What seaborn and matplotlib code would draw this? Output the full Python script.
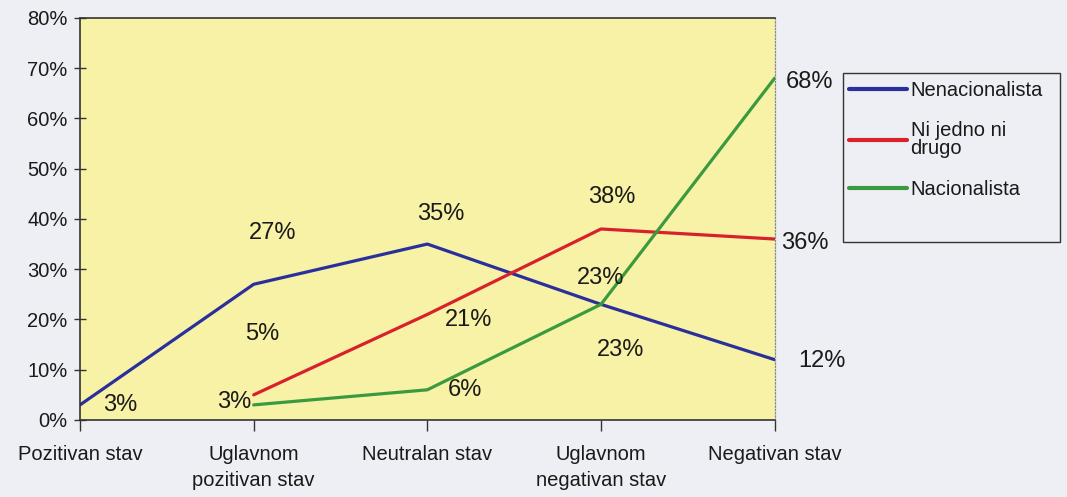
import numpy as np
import pandas as pd
import seaborn as sns
import matplotlib.pyplot as plt
from matplotlib.patches import Rectangle
from matplotlib.ticker import PercentFormatter

sns.set_style("white")
plt.rcParams['font.family'] = ['Liberation Sans', 'DejaVu Sans']

categories = ["Pozitivan stav", "Uglavnom\npozitivan stav", "Neutralan stav",
              "Uglavnom\nnegativan stav", "Negativan stav"]
nenacionalista = [3, 27, 35, 23, 12]
ni_jedno = [np.nan, 5, 21, 38, 36]
nacionalista = [np.nan, 3, 6, 23, 68]
series_names = ["Nenacionalista", "Ni jedno ni\ndrugo", "Nacionalista"]
colors = ["#2b2f9c", "#d8212b", "#3c9a3e"]

rows = []
for name, vals in zip(series_names, [nenacionalista, ni_jedno, nacionalista]):
    for i, v in enumerate(vals):
        rows.append({"serija": name, "x": i, "val": v})
df = pd.DataFrame(rows).dropna()

bg = "#eeeff4"
fig = plt.figure(figsize=(10.67, 4.97), dpi=100, facecolor=bg)
ax = fig.add_axes([0.075, 0.155, 0.651, 0.809])
ax.set_facecolor("#f7f2a6")

sns.lineplot(data=df, x="x", y="val", hue="serija", hue_order=series_names,
             palette=colors, linewidth=2.3, ax=ax, legend=True)

ax.set_xlim(0, 4)
ax.set_ylim(0, 80)
ax.set_xticks(range(5))
ax.set_xticklabels(categories, fontsize=14.5, color="#1a1a1a", linespacing=1.45)
ax.set_yticks(range(0, 81, 10))
ax.yaxis.set_major_formatter(PercentFormatter(decimals=0))
ax.tick_params(axis="y", labelsize=14.5, labelcolor="#1a1a1a", direction="inout",
               length=8, width=1, color="#333333", left=True, pad=5)
ax.tick_params(axis="x", direction="out", length=8, width=1, color="#333333",
               bottom=True, pad=10)
ax.set_xlabel("")
ax.set_ylabel("")
for s in ["left", "bottom", "top"]:
    ax.spines[s].set_color("#333333")
    ax.spines[s].set_linewidth(1.2)
ax.spines["right"].set_color("#888888")
ax.spines["right"].set_linewidth(0.9)
ax.spines["right"].set_linestyle(":")

# data labels (offsets in points)
label_offsets = {
    "Nenacionalista": [(29, 0), (14, 37), (10, 22), (14, -33), (34, -1)],
    "Ni jedno ni\ndrugo": [None, (6, 44), (30, -4), (8, 23), (22, -3)],
    "Nacionalista": [None, (-14, 2), (27, 0), (0, 19), (25, -3)],
}
for name, vals in zip(series_names, [nenacionalista, ni_jedno, nacionalista]):
    for i, v in enumerate(vals):
        if np.isnan(v):
            continue
        dx, dy = label_offsets[name][i]
        ax.annotate(f"{v:.0f}%", (i, v), xytext=(dx, dy), textcoords="offset points",
                    ha="center", va="center", fontsize=17, color="#1a1a1a",
                    annotation_clip=False)

# legend box like the original (taller than its entries)
fig.patches.append(Rectangle((0.790, 0.513), 0.203, 0.340, transform=fig.transFigure,
                             facecolor=bg, edgecolor="#333333", linewidth=1, zorder=0))

handles, labels = ax.get_legend_handles_labels()
ax.get_legend().remove()
leg = fig.legend(handles, labels, loc="upper left", bbox_to_anchor=(0.792, 0.845),
                 frameon=False, fontsize=14.5, handlelength=2.9,
                 handletextpad=0.15, labelspacing=1.05, borderpad=0.2,
                 borderaxespad=0)
for t in leg.get_texts():
    t.set_color("#1a1a1a")
    t.set_linespacing(0.95)
for h in leg.legend_handles:
    h.set_linewidth(3)

fig.savefig("out.png", dpi=100, facecolor=fig.get_facecolor())
